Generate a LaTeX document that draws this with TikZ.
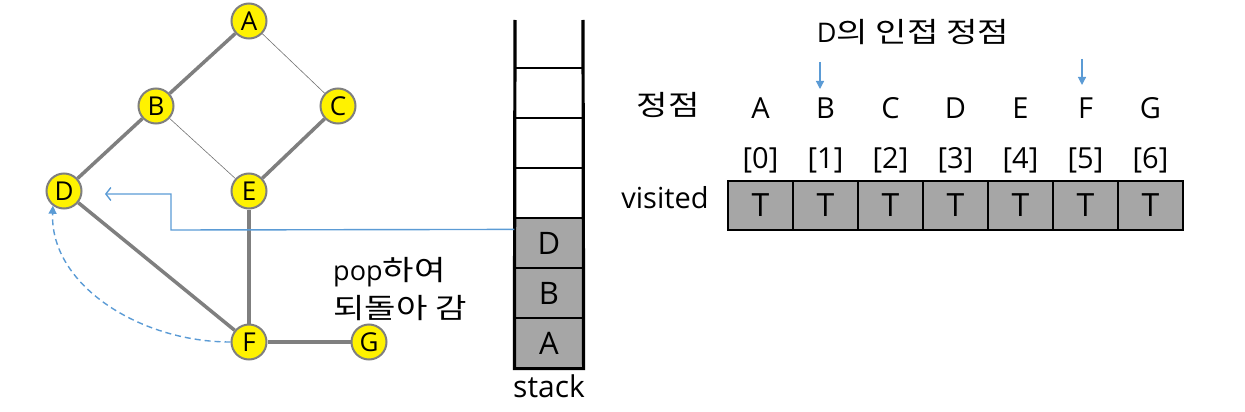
\documentclass[tikz,border=0pt]{standalone}
\usepackage{fontspec}
\setmainfont{Open Sans}
\newfontfamily\kr[FakeStretch=1.22]{Noto Sans CJK KR}
\usetikzlibrary{arrows.meta,calc}
\definecolor{edgegray}{RGB}{127,127,127}
\definecolor{cellgray}{RGB}{166,166,166}
\definecolor{lineblue}{RGB}{91,155,213}
\newcommand{\fsz}[1]{\fontsize{#1}{#1}\selectfont}
\begin{document}
\begin{tikzpicture}[x=1pt,y=-1pt,
  vnode/.style={circle,fill=yellow,draw=edgegray,line width=2pt,minimum size=35pt,inner sep=0pt,font=\fsz{26}},
  heavy/.style={draw=edgegray,line width=3.5pt},
  light/.style={draw=black!55,line width=0.6pt},
  scell/.style={rectangle,minimum width=68pt,minimum height=50pt,inner sep=0pt,draw=black,line width=1.2pt,font=\fsz{31}},
  vcell/.style={rectangle,minimum width=65pt,minimum height=49pt,inner sep=0pt,draw=black,line width=1.2pt,fill=cellgray,font=\fsz{32}},
  lbl/.style={inner sep=0pt,font=\fsz{29}},
  bluel/.style={draw=lineblue,line width=1.4pt},
]
\useasboundingbox (0,0) rectangle (1245,412);
% graph
\node[vnode] (A) at (249,21) {A};
\node[vnode] (B) at (156,106) {B};
\node[vnode] (C) at (338,106) {C};
\node[vnode] (D) at (64,191) {D};
\node[vnode] (E) at (249,191) {E};
\node[vnode] (F) at (249,342) {F};
\node[vnode] (G) at (369,342) {G};
\draw[heavy] (A) -- (B);
\draw[light] (A) -- (C);
\draw[heavy] (B) -- (D);
\draw[light] (B) -- (E);
\draw[heavy] (C) -- (E);
\draw[heavy] (D) -- (F);
\draw[heavy] (E) -- (F);
\draw[heavy] (F) -- (G);
\node[lbl,anchor=base west,font=\fsz{27}] (pop1) at (333,280) {pop{\kr\fsz{28}하여}};
\node[lbl,anchor=base west,font=\kr\fsz{28}] (pop2) at (333,318) {되돌아 감};
\draw[bluel,dashed,dash pattern=on 6pt off 4pt,-{Triangle[length=8pt,width=8pt]}] (F.west) .. controls (140,342) and (50,285) .. (D.233);
% stack
\node[scell,fill=cellgray] (s1) at (549,343) {A};
\node[scell,fill=cellgray] (s2) at (549,293) {B};
\node[scell,fill=cellgray] (s3) at (549,243) {D};
\node[scell] (s4) at (549,193) {};
\node[scell] (s5) at (549,143) {};
\node[scell] (s6) at (549,93) {};
\coordinate (stTL) at (515,20);
\coordinate (stTR) at (583,20);
\draw[line width=3.2pt,line join=miter] (stTL) -- (s1.south west) -- (s1.south east) -- (stTR);
\node[lbl,anchor=base,font=\fsz{30}] (stlbl) at (549,397) {stack};
% blue arrow from stack to D
\coordinate (bstart) at ($(s3.north west)+(0,12)$);
\coordinate (bend1) at (171,230);
\coordinate (bend2) at (171,194);
\coordinate (bend3) at (105,194);
\draw[bluel,-{Straight Barb[length=5pt,width=13pt]}] (bstart) -- (bend1) -- (bend2) -- (bend3);
% array
\node[lbl,anchor=base,font=\kr\fsz{28}] (title) at (913,43) {{\fontspec{Open Sans}\fsz{27}D}의 인접 정점};
\node[lbl,anchor=base,font=\kr\fsz{28}] (rowv) at (668,115) {정점};
\node[lbl,anchor=base,font=\fsz{29}] (rowvis) at (665,208) {visited};
\foreach \n/\k in {A/0,B/1,C/2,D/3,E/4,F/5,G/6}{
  \node[lbl,anchor=base] (h\n) at (760.5+65*\k,118) {\n};
  \node[lbl,anchor=base] (i\n) at (760.5+65*\k,168) {[\k]};
  \node[vcell] (v\n) at (760.5+65*\k,205.5) {T};
}
\coordinate (bA1) at (820,62);
\coordinate (bA2) at (820,89);
\coordinate (fA1) at (1082,59);
\coordinate (fA2) at (1082,85);
\draw[bluel,line width=1.2pt,-{Triangle[length=8pt,width=8pt]}] (bA1) -- (bA2);
\draw[bluel,line width=1.2pt,-{Triangle[length=8pt,width=8pt]}] (fA1) -- (fA2);
\end{tikzpicture}
\end{document}
